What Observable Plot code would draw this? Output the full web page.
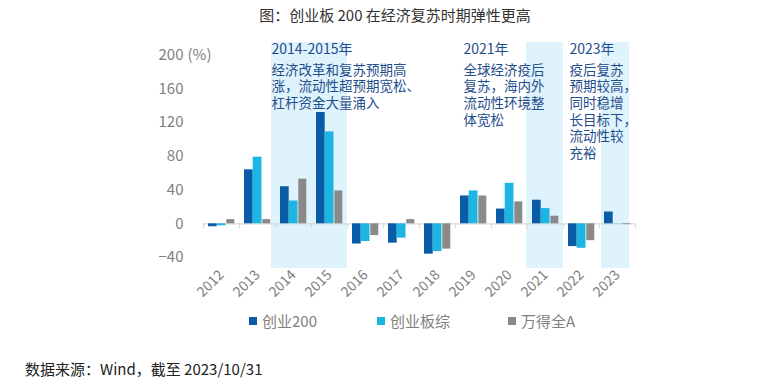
<!DOCTYPE html>
<html><head><meta charset="utf-8">
<script src="https://cdn.jsdelivr.net/npm/d3@7"></script>
<script src="https://cdn.jsdelivr.net/npm/@observablehq/plot@0.6"></script>
<style>
body{margin:0;background:#fff;font-family:"Noto Sans CJK SC","Noto Sans",sans-serif;}
#wrap{position:relative;width:780px;height:390px;overflow:hidden;background:#fff;}
#title{position:absolute;top:4px;left:0;width:790px;text-align:center;font-size:15px;color:#333;}
#chart{position:absolute;top:30px;left:0;}
.leg{position:absolute;top:310px;font-size:15px;color:#7f7f7f;display:flex;align-items:center;white-space:nowrap;}
.sw{width:8px;height:8px;margin-right:5px;}
#foot{position:absolute;left:25px;top:358px;font-size:15px;color:#222;}
</style></head><body>
<div id="wrap">
  <div id="title">图：创业板 200 在经济复苏时期弹性更高</div>
  <div id="chart"></div>
  <div id="legend"></div>
  <div id="foot">数据来源：Wind，截至 2023/10/31</div>
</div>
<script>
const years = ["2012","2013","2014","2015","2016","2017","2018","2019","2020","2021","2022","2023"];
const seriesNames = ["创业200","创业板综","万得全A"];
const cy200 = [-3.5, 64, 44, 132, -24, -23, -36, 33, 17.5, 28, -27, 14];
const cybz  = [-2.4, 79, 27, 109, -21, -17, -33, 39, 48, 18, -29, 0.3];
const wdqa  = [5, 5, 53, 39, -14, 5, -30, 33, 26, 9, -20, -1];
const colors = ["#0b5ca6", "#1db6e3", "#8a8a8a"];
const highlightGroups = [["2014","2015"], ["2021"], ["2023"]];
const yTicks = [-40, 0, 40, 80, 120, 160, 200];
const yDomain = [-53, 215];
const noteYears = ["2014","2021","2023"];
const noteHeads = ["2014-2015年", "2021年", "2023年"];
const noteBodies = [
  "经济改革和复苏预期高\n涨，流动性超预期宽松、\n杠杆资金大量涌入",
  "全球经济疫后\n复苏，海内外\n流动性环境整\n体宽松",
  "疫后复苏\n预期较高，\n同时稳增\n长目标下，\n流动性较\n充裕"
];

const seriesValues = [cy200, cybz, wdqa];
const rowsFor = k => years.map((y, i) => ({year: y, series: seriesNames[k], value: seriesValues[k][i]}));
const notes = noteYears.map((y, i) => ({year: y, head: noteHeads[i], body: noteBodies[i]}));

const noteColor = "#1f4e8c";
const insets = [[5, 22.3], [13.7, 13.5], [23.3, 4.7]];
const shadeInsets = [[-4, 0], [-1, 0], [2, 6]];
const noteDx = [-22, -82, -48];

const marks = [
  ...highlightGroups.map((g, i) => Plot.barY(g, {
    x: d => d, y1: () => yDomain[0], y2: () => yDomain[1], fill: "#dff3fc",
    insetLeft: shadeInsets[i][0], insetRight: shadeInsets[i][1]
  })),
  Plot.ruleY([0], {stroke: "#d9d9d9", strokeWidth: 1.2}),
  Plot.ruleX(years, {x: d => d, dx: -18, y1: 0, y2: -6, stroke: "#d9d9d9", strokeWidth: 1.2}),
  Plot.ruleX([years[years.length - 1]], {x: d => d, dx: 18, y1: 0, y2: -6, stroke: "#d9d9d9", strokeWidth: 1.2}),
  ...[0, 1, 2].map(k => Plot.barY(rowsFor(k), {
    x: "year", y: "value", fill: colors[k],
    insetLeft: insets[k][0], insetRight: insets[k][1]
  })),
  Plot.axisY({ticks: yTicks, tickSize: 0, tickPadding: 20, fontSize: 15, fill: "#7f7f7f", label: null}),
  Plot.text(["(%)"], {frameAnchor: "left", y: () => yTicks[yTicks.length - 1], dx: -16, textAnchor: "start", fontSize: 15, fill: "#7f7f7f"}),
  Plot.axisX({tickRotate: -45, tickSize: 0, tickPadding: 4, fontSize: 14, fill: "#7f7f7f", label: null}),
  ...noteDx.map((dx, i) => Plot.text([notes[i]], {
    x: "year", text: "head", frameAnchor: "top", lineAnchor: "top", textAnchor: "start",
    dx, dy: 1.5, fontSize: 14, fill: noteColor
  })),
  ...noteDx.map((dx, i) => Plot.text([notes[i]], {
    x: "year", text: "body", frameAnchor: "top", lineAnchor: "top", textAnchor: "start",
    dx, dy: 20.5, fontSize: 13.5, lineHeight: 1.23, fill: noteColor
  }))
];

const chart = Plot.plot({
  width: 780, height: 285,
  marginLeft: 203, marginRight: 145, marginTop: 12, marginBottom: 47,
  x: {domain: years, padding: 0, axis: null},
  y: {domain: yDomain, axis: null},
  style: {fontFamily: '"Noto Sans CJK SC","Noto Sans",sans-serif', background: "transparent"},
  marks
});
document.getElementById("chart").appendChild(chart);

const legPos = [249, 377, 508];
const leg = document.getElementById("legend");
seriesNames.forEach((name, i) => {
  const d = document.createElement("div");
  d.className = "leg";
  d.style.left = legPos[i] + "px";
  d.innerHTML = `<span class="sw" style="background:${colors[i]}"></span><span>${name}</span>`;
  leg.appendChild(d);
});
</script>
</body></html>
